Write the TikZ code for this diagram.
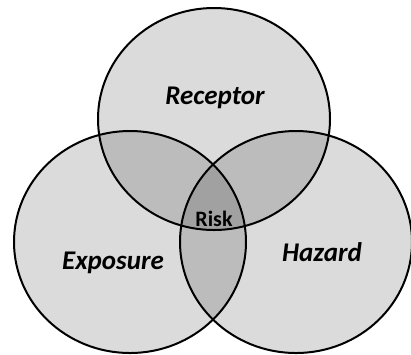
\documentclass[tikz,border=0pt]{standalone}
\usepackage{fontspec}
\setmainfont{Carlito}

\begin{document}
\begin{tikzpicture}[x=1pt,y=-1pt,
  shade/.style={fill=black,fill opacity=.14},
  rim/.style={draw,line width=2pt},
  every node/.style={inner sep=0pt,font=\fontsize{27}{30}\selectfont\bfseries\itshape}]
\useasboundingbox (0,0) rectangle (411,354);
\coordinate (rec) at (214,119);
\coordinate (exp) at (130,242);
\coordinate (haz) at (296,242);
\foreach \c in {rec,exp,haz}
  \fill[shade] (\c) ellipse [x radius=116,y radius=111];
\foreach \c in {rec,exp,haz}
  \draw[rim] (\c) ellipse [x radius=116,y radius=111];
\node (receptor) at (215,98)  {Receptor};
\node (exposure) at (113,263) {Exposure};
\node (hazard)   at (322,252) {Hazard};
\node[font=\fontsize{22}{24}\selectfont\bfseries] (risk) at (214,219) {Risk};
\end{tikzpicture}
\end{document}
